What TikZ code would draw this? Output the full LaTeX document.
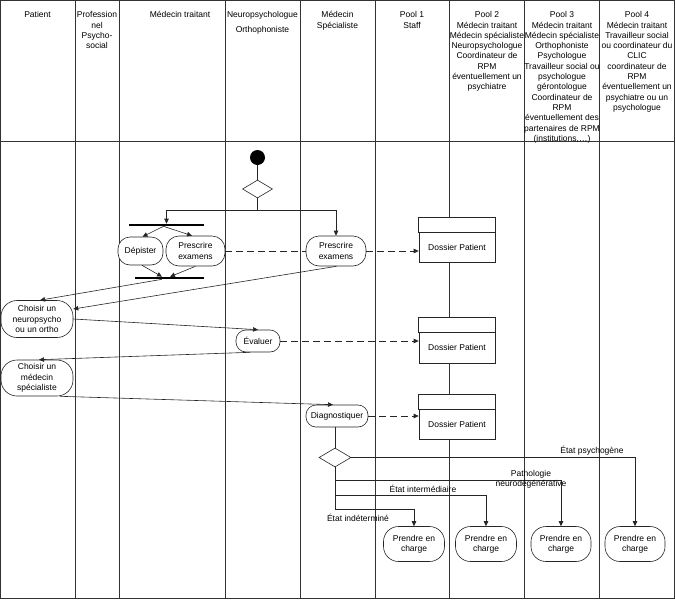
\documentclass[tikz,border=0pt]{standalone}
\usepackage{fontspec}
\setmainfont{Liberation Sans}
\usetikzlibrary{arrows.meta,shapes.geometric,calc}
\begin{document}
\begin{tikzpicture}[x=1pt,y=-1pt,
  font=\fontsize{8.5}{10.3}\selectfont,
  lane/.style={draw=black!80, line width=0.9pt},
  hdr/.style={anchor=north, align=center, inner sep=0pt},
  act/.style={draw=black!85, fill=white, line width=0.6pt, align=center, inner sep=1pt},
  box/.style={draw=black!85, fill=white, line width=0.6pt, inner sep=1pt, minimum width=76pt},
  bar/.style={fill=black, inner sep=0pt, minimum height=2.2pt},
  ln/.style={draw=black!85, line width=0.6pt},
  flow/.style={ln, -{Triangle[length=5pt,width=4.5pt]}},
  dflow/.style={flow, dash pattern=on 7pt off 4pt},
  dline/.style={ln, dash pattern=on 7pt off 4pt},
  lbl/.style={inner sep=0pt, align=center},
  dec/.style={diamond, draw=black!85, fill=white, line width=0.6pt, inner sep=0pt, aspect=1.7}
]
\useasboundingbox (0,0) rectangle (675,600);
% frame and lanes
\draw[lane] (0.5,0.5) rectangle (674,598);
\draw[lane] (0.5,141) -- (674,141);
\foreach \x in {75.5,119.5,225.5,300,375,449.5,524.5,599.5}
  \draw[lane] (\x,0.5) -- (\x,598);
% headers
\node[hdr] (h1) at (37.5,10.3) {\strut Patient};
\node[hdr] (h2) at (97,10.3) {\strut Profession\\nel\\Psycho-\\social};
\node[hdr] (h3) at (180,10.3) {\strut Médecin traitant};
\node[hdr] (h4) at (262.5,10.3) {\strut Neuropsychologue\\[4.5pt]Orthophoniste};
\node[hdr] (h5) at (337.5,10.3) {\strut Médecin\\Spécialiste};
\node[hdr] (h6) at (412,10.3) {\strut Pool 1\\Staff};
\node[hdr] (h7) at (487,10.3) {\strut Pool 2\\Médecin traitant\\Médecin spécialiste\\Neuropsychologue\\Coordinateur de\\RPM\\éventuellement un\\psychiatre};
\node[hdr] (h8) at (562,10.3) {\strut Pool 3\\Médecin traitant\\Médecin spécialiste\\Orthophoniste\\Psychologue\\Travailleur social ou\\psychologue\\gérontologue\\Coordinateur de\\RPM\\éventuellement des\\partenaires de RPM\\(institutions,…)};
\node[hdr] (h9) at (637,10.3) {\strut Pool 4\\Médecin traitant\\Travailleur social\\ou coordinateur du\\CLIC\\coordinateur de\\RPM\\éventuellement un\\psychiatre ou un\\psychologue};
% start
\node[circle, fill=black, inner sep=0pt, minimum size=15pt] (start) at (257.5,157.5) {};
\node[dec, minimum width=30pt, minimum height=18pt] (d1) at (257.5,189) {};
\draw[ln] (start) -- (d1.north);
% fork / join bars
\node[bar, minimum width=75pt] (bar1) at (166.5,225) {};
\node[bar, minimum width=69pt] (bar2) at (169.5,278) {};
% activities
\node[act, minimum width=45pt, minimum height=28pt, rounded corners=12pt] (dep) at (140.5,251) {Dépister};
\node[act, minimum width=59pt, minimum height=30pt, rounded corners=13pt] (pmt) at (195.5,251) {Prescrire\\examens};
\node[act, minimum width=60pt, minimum height=30pt, rounded corners=13pt] (pms) at (336,251) {Prescrire\\examens};
\node[act, minimum width=72pt, minimum height=37pt, rounded corners=16pt] (cn) at (37,319) {Choisir un\\neuropsycho\\ou un ortho};
\node[act, minimum width=44pt, minimum height=22pt, rounded corners=10pt] (ev) at (258,341) {Évaluer};
\node[act, minimum width=72pt, minimum height=36pt, rounded corners=16pt] (cm) at (37,378) {Choisir un\\médecin\\spécialiste};
\node[act, minimum width=62pt, minimum height=22pt, rounded corners=10pt] (diag) at (337,416) {Diagnostiquer};
% dossiers
\node[box, minimum height=29.3pt] (dp1) at (457,247.4) {Dossier Patient};
\draw[ln, fill=white] (dp1.north west) rectangle ($(dp1.north east)+(0,-15)$);
\node[box, minimum height=30.3pt] (dp2) at (457,347.9) {Dossier Patient};
\draw[ln, fill=white] (dp2.north west) rectangle ($(dp2.north east)+(0,-15)$);
\node[box, minimum height=30pt] (dp3) at (457,424.3) {Dossier Patient};
\draw[ln, fill=white] (dp3.north west) rectangle ($(dp3.north east)+(0,-15)$);
% decision 2
\node[dec, minimum width=32pt, minimum height=19pt] (d2) at (335,457.5) {};
% prendre en charge
\node[act, minimum width=61pt, minimum height=35pt, rounded corners=15pt] (pe1) at (414,544) {Prendre en\\charge};
\node[act, minimum width=61pt, minimum height=35pt, rounded corners=15pt] (pe2) at (486,544) {Prendre en\\charge};
\node[act, minimum width=60pt, minimum height=35pt, rounded corners=15pt] (pe3) at (561,544) {Prendre en\\charge};
\node[act, minimum width=60pt, minimum height=35pt, rounded corners=15pt] (pe4) at (635,544) {Prendre en\\charge};
% flows top
\coordinate (sp) at (257.5,210);
\draw[ln] (d1.south) -- (sp);
\draw[flow] (sp) -| (bar1.north);
\draw[flow] (sp) -| (pms.north);
\draw[flow] ([xshift=-3pt]bar1.south) -- ([xshift=2pt]dep.north);
\draw[flow] ([xshift=-3pt]bar1.south) -- ([xshift=-3.5pt]pmt.north);
\draw[flow] ([xshift=1.5pt]dep.south) -- ([xshift=-7.5pt]bar2.north);
\draw[flow] (pmt.south) -- ([xshift=0.5pt]bar2.north);
\draw[flow] ([xshift=-7.5pt]bar2.south) -- ([xshift=3pt]cn.north);
\draw[flow] ([xshift=0.5pt]pms.south) -- ([yshift=10pt]cn.east);
\draw[flow] (cn.east) -- (ev.north);
\draw[flow] ([xshift=-8pt]ev.south) -- ([xshift=2pt]cm.north);
\draw[flow] ([xshift=23pt]cm.south) -- ([xshift=-4pt]diag.north);
% dashed
\draw[dline] (pmt.east) -- (pms.west);
\draw[dflow] (pms.east) -- (pms.east -| dp1.west);
\draw[dflow] (ev.east) -- (ev.east -| dp2.west);
\draw[dflow] (diag.east) -- (diag.east -| dp3.west);
% decision branches
\draw[ln] ([xshift=-2pt]diag.south) -- (d2.north);
\coordinate (b3) at (335,480);
\coordinate (b2) at (335,495);
\coordinate (b1) at (335,509);
\draw[ln] (d2.south) -- (b1);
\draw[flow] (d2.east) -| (pe4.north);
\draw[flow] (b3) -| (pe3.north);
\draw[flow] (b2) -| (pe2.north);
\draw[flow] (b1) -| (pe1.north);
\node[lbl] (l4) at (592,451) {État psychogène};
\node[lbl] (l3) at (531,479) {Pathologie\\neurodégénérative};
\node[lbl] (l2) at (423,489) {État intermédiaire};
\node[lbl] (l1) at (358,518) {État indéterminé};
\end{tikzpicture}
\end{document}
